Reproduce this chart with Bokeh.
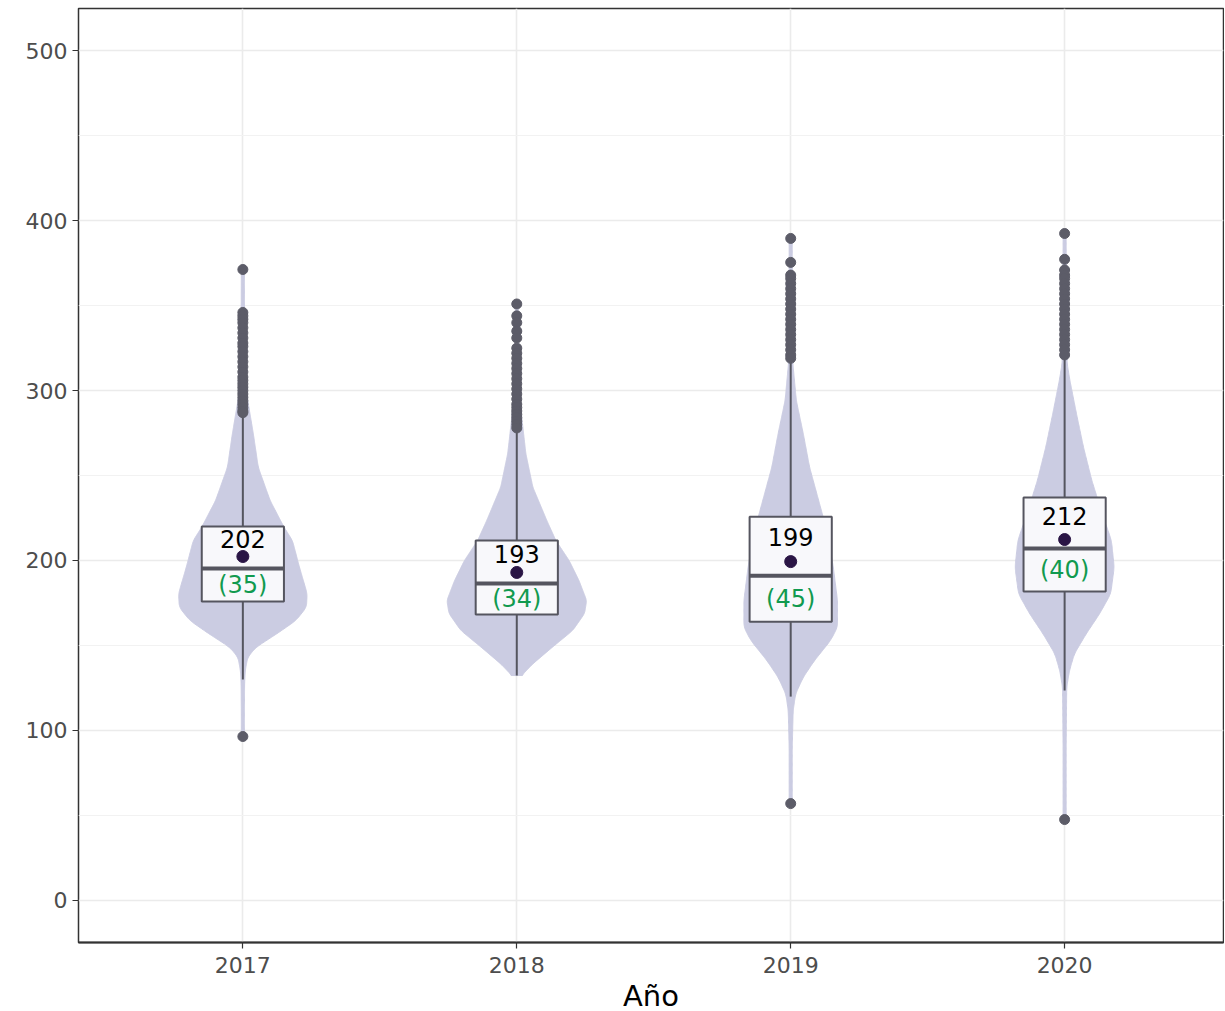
import numpy as np
from bokeh.plotting import figure
from bokeh.models import FixedTicker, ColumnDataSource
from bokeh.core.properties import value
from bokeh.embed import file_html
from bokeh.resources import INLINE

# ---------------- data ----------------
years = [2017, 2018, 2019, 2020]
q1 = [175.8, 168.1, 163.9, 181.7]
median = [195.2, 186.4, 191.0, 207.0]
q3 = [219.9, 211.7, 225.7, 237.0]
whisker_low = [129.9, 132.2, 119.8, 123.4]
whisker_high = [285.5, 276.5, 317.5, 319.0]
means = [202.3, 192.9, 199.3, 212.3]
sds = [35, 34, 45, 40]

outliers_2017 = [96.3, 371.3, 346, 344, 342, 340, 337, 334, 331, 328, 326, 323, 320, 317,
                 314, 311, 308, 306, 304, 302, 300, 298, 296, 294, 292, 290, 288, 287]
outliers_2018 = [351, 344, 340, 335, 331, 325, 322, 319, 316, 313, 310, 307, 304, 301,
                 298, 295, 292, 290, 288, 286, 284, 282, 280, 278]
outliers_2019 = [56.8, 389.6, 375.5, 368, 366, 363, 360, 357, 354, 351, 348, 345, 342,
                 339, 336, 333, 330, 327, 324, 321, 319]
outliers_2020 = [47.4, 392.5, 377.3, 371, 368, 366, 363, 360, 357, 354, 351, 348, 345,
                 342, 339, 336, 333, 330, 327, 324, 321]
outliers = [outliers_2017, outliers_2018, outliers_2019, outliers_2020]

# violin density profiles (relative density at given values)
violin_y_2017 = [96.3, 110, 127.5, 135.2, 143, 148.9, 156.9, 164.6, 172.4, 180.5, 196,
                 211.7, 219.5, 235.3, 254.9, 274.6, 294.2, 304, 330, 371.3]
violin_d_2017 = [0.022, 0.022, 0.025, 0.035, 0.07, 0.19, 0.49, 0.76, 0.91, 0.92, 0.81,
                 0.71, 0.59, 0.39, 0.22, 0.15, 0.07, 0.04, 0.025, 0.022]
violin_y_2018 = [132.2, 139.1, 148.9, 158.7, 168.7, 176.4, 188.2, 199.9, 211.7, 223.5,
                 243.1, 262.8, 282.4, 296, 320, 351]
violin_d_2018 = [0.07, 0.23, 0.51, 0.80, 0.97, 1.0, 0.89, 0.75, 0.56, 0.43, 0.23, 0.13,
                 0.076, 0.043, 0.025, 0.022]
violin_y_2019 = [56.8, 90, 111.6, 121.4, 131.2, 141, 152.8, 160.7, 176.4, 196, 215.7,
                 235.3, 254.9, 274.6, 294.2, 316.5, 350, 389.6]
violin_d_2019 = [0.022, 0.022, 0.035, 0.07, 0.18, 0.34, 0.57, 0.67, 0.67, 0.61, 0.53, 0.40,
                 0.27, 0.18, 0.08, 0.03, 0.022, 0.022]
violin_y_2020 = [47.4, 90, 125.3, 135.2, 145, 156.8, 168.5, 180.3, 196, 211.7, 227.4,
                 247, 266.7, 286.3, 305.9, 316, 350, 392.5]
violin_d_2020 = [0.022, 0.022, 0.03, 0.07, 0.14, 0.31, 0.50, 0.66, 0.71, 0.67, 0.54, 0.39,
                 0.27, 0.17, 0.076, 0.036, 0.022, 0.022]
violin_y = [violin_y_2017, violin_y_2018, violin_y_2019, violin_y_2020]
violin_d = [violin_d_2017, violin_d_2018, violin_d_2019, violin_d_2020]

y_ticks = [0, 100, 200, 300, 400, 500]
y_minor = [50, 150, 250, 350, 450]
x_label = "Año"

# ---------------- styling ----------------
FONT = "DejaVu Sans"
VIOLIN_COLOR = "#cbcce2"
BOX_LINE = "#55555f"
BOX_FILL = "#f8f8fb"
PT_COLOR = "#5c5c68"
MEAN_COLOR = "#2a1545"
SD_COLOR = "#119a4f"
VIOLIN_HALF = 0.255
BOX_HALF = 0.15

p = figure(x_range=(2016.4, 2020.58), y_range=(-25, 525),
           frame_width=1145, frame_height=934,
           min_border_left=78, min_border_right=1, min_border_top=8, min_border_bottom=68,
           output_backend="svg", toolbar_location=None)

p.background_fill_color = "white"
p.border_fill_color = "white"
p.outline_line_color = "#333333"
p.outline_line_width = 1.5

# grids
p.xgrid.ticker = FixedTicker(ticks=years)
p.xgrid.grid_line_color = "#ebebeb"
p.xgrid.grid_line_width = 1.6
p.ygrid.ticker = FixedTicker(ticks=y_ticks, minor_ticks=y_minor)
p.ygrid.grid_line_color = "#ebebeb"
p.ygrid.grid_line_width = 1.6
p.ygrid.minor_grid_line_color = "#f2f2f2"
p.ygrid.minor_grid_line_width = 1.0

# axes
p.xaxis.ticker = FixedTicker(ticks=years)
p.yaxis.ticker = FixedTicker(ticks=y_ticks)
for ax in (p.xaxis[0], p.yaxis[0]):
    ax.major_label_text_font = FONT
    ax.major_label_text_font_size = "22px"
    ax.major_label_text_color = "#4d4d4d"
    ax.major_tick_line_color = "#333333"
    ax.major_tick_line_width = 1.2
    ax.major_tick_in = 0
    ax.major_tick_out = 6
    ax.minor_tick_line_color = None
    ax.major_label_standoff = 5
p.xaxis.major_label_standoff = 8
p.yaxis.axis_line_color = None
p.xaxis.axis_line_color = "#333333"
p.xaxis.axis_line_width = 2
p.xaxis.axis_label = x_label
p.xaxis.axis_label_text_font = FONT
p.xaxis.axis_label_text_font_size = "29px"
p.xaxis.axis_label_text_font_style = "normal"
p.xaxis.axis_label_text_color = "black"
p.xaxis.axis_label_standoff = 3

# violins
for yr, vy, vd in zip(years, violin_y, violin_d):
    ys = np.linspace(vy[0], vy[-1], 500)
    w = np.interp(ys, vy, vd)
    k = np.ones(9) / 9
    w = np.convolve(np.pad(w, 4, mode="edge"), k, mode="valid")
    half = w * VIOLIN_HALF
    xs = np.concatenate([yr - half, (yr + half)[::-1]])
    yy = np.concatenate([ys, ys[::-1]])
    p.patch(xs, yy, fill_color=VIOLIN_COLOR, line_color=VIOLIN_COLOR, line_width=1,
            fill_alpha=1.0)

x0 = [y - BOX_HALF for y in years]
x1 = [y + BOX_HALF for y in years]
src = ColumnDataSource(dict(x=years, x0=x0, x1=x1, q1=q1, q3=q3, med=median,
                            wl=whisker_low, wh=whisker_high, mean=means,
                            mean_lab=[str(int(round(m))) for m in means],
                            sd_lab=["(%d)" % s for s in sds],
                            mean_y=[(a + b) / 2 + 1.5 for a, b in zip(q3, means)],
                            sd_y=[(a + b) / 2 for a, b in zip(q1, median)]))

# whiskers
p.segment(x0="x", y0="wl", x1="x", y1="q1", source=src, line_color=BOX_LINE, line_width=2)
p.segment(x0="x", y0="q3", x1="x", y1="wh", source=src, line_color=BOX_LINE, line_width=2)

# boxes
p.quad(left="x0", right="x1", bottom="q1", top="q3", source=src,
       fill_color=BOX_FILL, line_color=BOX_LINE, line_width=2)
p.segment(x0="x0", y0="med", x1="x1", y1="med", source=src, line_color=BOX_LINE,
          line_width=4)

# outliers
ox = [yr for yr, lst in zip(years, outliers) for _ in lst]
oy = [v for lst in outliers for v in lst]
p.scatter(ox, oy, size=10, fill_color=PT_COLOR, line_color=PT_COLOR)

# means
p.scatter(x="x", y="mean", source=src, size=12, fill_color=MEAN_COLOR, line_color=MEAN_COLOR)

# labels
p.text(x="x", y="mean_y", text="mean_lab", source=src, text_align="center",
       text_baseline="middle", text_font=value(FONT), text_font_size="24px",
       text_color="black")
p.text(x="x", y="sd_y", text="sd_lab", source=src, text_align="center",
       text_baseline="middle", text_font=value(FONT), text_font_size="24px",
       text_color=SD_COLOR)

open("out.html", "w").write(file_html(p, INLINE))
